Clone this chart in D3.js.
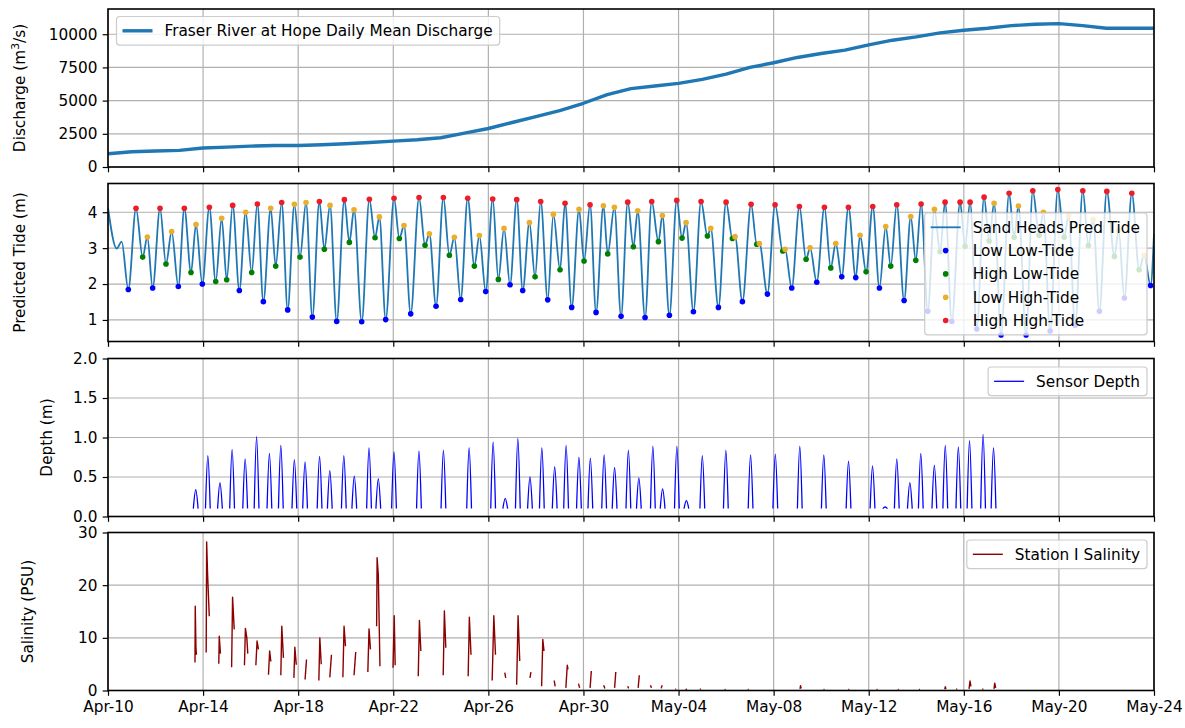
<!DOCTYPE html>
<html>
<head>
<meta charset="utf-8">
<script src="https://cdn.jsdelivr.net/npm/d3@7"></script>
<style>
  body { margin: 0; background: #fff; }
  svg { display: block; font-family: 'DejaVu Sans', sans-serif; }
</style>
</head>
<body>
<svg id="chart" width="1185" height="728"></svg>
<script>
// all times are in days counted from Apr-10 00:00
var xTickLabels = ['Apr-10', 'Apr-14', 'Apr-18', 'Apr-22', 'Apr-26', 'Apr-30',
  'May-04', 'May-08', 'May-12', 'May-16', 'May-20', 'May-24']

var dischargeTicks = [0, 2500, 5000, 7500, 10000]
var tideTicks = [1, 2, 3, 4]
var depthTicks = [0, 0.5, 1.0, 1.5, 2.0]
var salinityTicks = [0, 10, 20, 30]

// Fraser River at Hope, daily mean (m3/s), Apr-10 .. May-24
var discharge = [1000, 1150, 1200, 1250, 1430, 1500, 1570, 1620, 1620, 1680,
  1750, 1850, 1950, 2050, 2200, 2550, 2900, 3350, 3800, 4250,
  4800, 5450, 5900, 6100, 6300, 6600, 7000, 7500, 7850, 8250,
  8550, 8800, 9200, 9550, 9800, 10100, 10300, 10450, 10650, 10750,
  10800, 10650, 10450, 10450, 10450]

// predicted tide turning points [day, m]
var tideUnmarked = [[0, 4.12], [0.365, 2.99], [0.575, 3.18], [44, 3.4]]
var lowLowTide = [[0.855, 1.85], [1.879, 1.89], [2.959, 1.93], [3.968, 2.00], [5.525, 1.82],
  [6.535, 1.51], [7.559, 1.28], [8.596, 1.08], [9.620, 0.96], [10.672, 0.95], [11.681, 1.01],
  [12.733, 1.17], [13.799, 1.38], [14.837, 1.57], [15.889, 1.79], [16.912, 1.98], [17.445, 1.82],
  [18.497, 1.56], [19.506, 1.35], [20.530, 1.21], [21.582, 1.10], [22.592, 1.07], [23.615, 1.13],
  [24.625, 1.23], [25.677, 1.35], [26.686, 1.51], [27.738, 1.72], [28.762, 1.89], [29.814, 2.05],
  [30.865, 2.20], [31.454, 2.18], [32.450, 1.89], [33.488, 1.54], [34.485, 1.24], [35.494, 0.96],
  [36.545, 0.75], [37.568, 0.58], [38.620, 0.58], [39.630, 0.69], [40.682, 0.85], [41.703, 1.24],
  [42.755, 1.61], [43.857, 1.96]]
var highLowTide = [[1.458, 2.75], [2.440, 2.56], [3.492, 2.32], [4.530, 2.07], [4.993, 2.12],
  [6.044, 2.32], [7.054, 2.50], [8.077, 2.75], [9.101, 2.97], [10.153, 3.16], [11.233, 3.29],
  [12.256, 3.27], [13.336, 3.08], [14.360, 2.80], [15.411, 2.50], [16.421, 2.13], [17.964, 2.20],
  [19.015, 2.40], [20.025, 2.64], [21.021, 2.84], [22.101, 3.04], [23.153, 3.18], [24.148, 3.28],
  [25.214, 3.34], [26.265, 3.27], [27.289, 3.11], [28.383, 2.92], [29.365, 2.69], [30.403, 2.45],
  [31.889, 2.34], [32.926, 2.50], [33.979, 2.66], [35.000, 2.90], [36.053, 3.05], [37.064, 3.20],
  [38.115, 3.30], [39.167, 3.36], [40.219, 3.30], [41.241, 3.07], [42.335, 2.77], [43.374, 2.40]]
var lowHighTide = [[1.655, 3.31], [2.678, 3.46], [3.702, 3.66], [4.782, 3.83], [5.792, 4.00],
  [6.843, 4.11], [7.839, 4.22], [8.330, 4.27], [9.339, 4.19], [10.349, 4.07], [11.415, 3.87],
  [12.453, 3.63], [13.518, 3.40], [14.570, 3.30], [15.622, 3.35], [16.659, 3.55], [17.726, 3.71],
  [18.735, 3.94], [19.815, 4.08], [20.839, 4.18], [21.301, 4.14], [22.283, 4.04], [23.321, 3.91],
  [24.316, 3.71], [25.354, 3.55], [26.378, 3.32], [27.401, 3.13], [28.481, 2.97], [29.533, 3.01],
  [30.613, 3.13], [31.636, 3.36], [32.716, 3.60], [33.768, 3.88], [34.763, 4.08], [37.274, 4.25],
  [38.296, 4.17], [39.348, 4.00], [40.408, 3.90], [41.439, 3.80], [42.512, 3.50], [43.584, 2.80]]
var highHighTide = [[1.178, 4.11], [2.188, 4.11], [3.211, 4.11], [4.263, 4.14], [5.245, 4.19],
  [6.282, 4.23], [7.306, 4.27], [8.891, 4.30], [9.943, 4.35], [10.994, 4.36], [12.032, 4.39],
  [13.084, 4.41], [14.107, 4.41], [15.131, 4.39], [16.183, 4.37], [17.193, 4.35], [18.202, 4.30],
  [19.226, 4.25], [20.278, 4.21], [21.862, 4.28], [22.872, 4.30], [23.924, 4.33], [24.947, 4.30],
  [25.999, 4.28], [27.051, 4.22], [28.061, 4.21], [29.084, 4.16], [30.136, 4.14], [31.146, 4.14],
  [32.169, 4.16], [33.179, 4.21], [34.203, 4.23], [35.212, 4.28], [35.843, 4.28], [36.264, 4.28],
  [36.853, 4.42], [37.905, 4.53], [38.902, 4.60], [39.954, 4.63], [41.005, 4.60], [42.015, 4.58],
  [43.067, 4.53]]

// sensor depth: one submerged pulse per entry [day of peak, peak depth m]
var sensorBase = 0.1
var sensorPeaks = [[3.69, 0.34], [4.20, 0.77], [4.71, 0.43], [5.22, 0.85], [5.77, 0.73],
  [6.25, 1.01], [6.79, 0.80], [7.27, 0.90], [7.84, 0.72], [8.29, 0.69], [8.90, 0.76],
  [9.33, 0.58], [9.92, 0.77], [10.36, 0.51], [10.98, 0.87], [11.37, 0.48], [12.03, 0.82],
  [13.08, 0.83], [14.11, 0.84], [15.19, 0.87], [16.20, 0.94], [16.71, 0.23], [17.24, 0.99],
  [17.75, 0.50], [18.25, 0.87], [18.79, 0.63], [19.27, 0.90], [19.81, 0.75], [20.29, 0.74],
  [20.87, 0.78], [21.31, 0.62], [21.89, 0.84], [22.33, 0.49], [22.92, 0.89], [23.33, 0.35],
  [23.93, 0.89], [24.33, 0.20], [25.00, 0.77], [25.99, 0.84], [27.03, 0.78], [28.07, 0.79],
  [29.10, 0.89], [30.11, 0.78], [31.15, 0.70], [32.16, 0.64], [32.69, 0.12], [33.18, 0.73],
  [33.73, 0.43], [34.19, 0.80], [34.76, 0.65], [35.22, 0.90], [35.77, 0.88], [36.24, 0.96],
  [36.81, 1.04], [37.25, 0.87]]

// station I salinity (PSU), recorded pieces [day, PSU]
var salinitySegments = [
  [[3.66, 5.3], [3.67, 16.0], [3.70, 8.1], [3.72, 6.8]],
  [[4.13, 7.2], [4.15, 28.2], [4.19, 22.0], [4.26, 14.1]],
  [[4.66, 5.1], [4.68, 10.3], [4.73, 7.0]],
  [[5.20, 4.4], [5.24, 17.7], [5.31, 11.6]],
  [[5.74, 4.8], [5.78, 11.8], [5.84, 10.0], [5.88, 7.0]],
  [[6.22, 4.8], [6.27, 9.4], [6.33, 7.8]],
  [[6.75, 3.0], [6.80, 7.5], [6.85, 5.5]],
  [[7.27, 2.9], [7.31, 12.2], [7.38, 6.2]],
  [[7.82, 2.4], [7.86, 8.2], [7.92, 4.9]],
  [[8.29, 2.1], [8.35, 5.9]],
  [[8.87, 1.9], [8.91, 10.0], [8.97, 5.0]],
  [[9.33, 2.5], [9.40, 6.8]],
  [[9.88, 2.5], [9.93, 12.2], [9.99, 8.4]],
  [[10.35, 2.9], [10.42, 7.3]],
  [[10.93, 3.5], [10.98, 11.7], [11.04, 7.8]],
  [[11.30, 12.2], [11.32, 25.2], [11.37, 22.0], [11.44, 4.6]],
  [[11.99, 4.3], [12.04, 14.2], [12.08, 4.8]],
  [[13.05, 2.7], [13.10, 13.3], [13.16, 7.5]],
  [[14.10, 2.9], [14.15, 15.1], [14.21, 8.1]],
  [[15.15, 2.7], [15.20, 13.9], [15.27, 6.8]],
  [[16.16, 1.9], [16.23, 14.2], [16.30, 6.8]],
  [[16.69, 3.4], [16.73, 2.4]],
  [[17.19, 1.1], [17.25, 14.2], [17.32, 5.6]],
  [[17.75, 2.4], [17.79, 3.5]],
  [[18.24, 0.8], [18.29, 9.7], [18.34, 7.5]],
  [[18.77, 1.9], [18.81, 0.8]],
  [[19.26, 0.5], [19.32, 4.8], [19.35, 4.0]],
  [[19.79, 1.3], [19.84, 0.5]],
  [[20.28, 0.5], [20.33, 3.7]],
  [[20.85, 1.0], [20.90, 0.4]],
  [[21.31, 0.5], [21.36, 3.5]],
  [[21.86, 0.8], [21.90, 0.4]],
  [[22.30, 0.5], [22.35, 2.9]],
  [[22.82, 1.0], [22.86, 0.5]],
  [[23.27, 0.4], [23.31, 1.0]],
  [[23.87, 0.2], [23.90, 0.3]],
  [[24.30, 0.3], [24.35, 0.15]],
  [[24.90, 0.2], [24.94, 0.3]],
  [[25.94, 0.2], [25.98, 0.2]],
  [[26.91, 0.2], [26.95, 0.2]],
  [[29.11, 0.3], [29.13, 0.9], [29.16, 0.4]],
  [[30.10, 0.2], [30.14, 0.2]],
  [[31.14, 0.2], [31.18, 0.2]],
  [[32.33, 0.2], [32.37, 0.2]],
  [[33.22, 0.2], [33.26, 0.2]],
  [[34.11, 0.2], [34.15, 0.2]],
  [[35.20, 0.2], [35.22, 0.7], [35.25, 0.3]],
  [[35.68, 0.2], [35.72, 0.3]],
  [[36.22, 0.3], [36.26, 1.8], [36.30, 0.8]],
  [[36.78, 0.2], [36.82, 0.3]],
  [[37.27, 0.3], [37.30, 1.4], [37.34, 0.5]]
]

var FONT = 15.3
var left = 108
var right = 1154
var panelTop = [9, 183.5, 358.5, 532.5]
var panelH = 158

var svg = d3.select('#chart')

var parseTick = d3.timeParse('%Y-%b-%d')
var tickDates = xTickLabels.map(function (s) { return parseTick('2019-' + s) })
var t0 = tickDates[0]
var dayToDate = function (d) { return new Date(+t0 + d * 864e5) }

var x = d3.scaleTime()
  .domain([tickDates[0], tickDates[tickDates.length - 1]])
  .range([left, right])

var makePanel = function (i, domain, ticks) {
  var top = panelTop[i]
  var bottom = top + panelH
  var y = d3.scaleLinear().domain(domain).range([bottom, top])
  var g = svg.append('g')

  g.append('g').selectAll('line')
    .data(tickDates)
    .join('line')
    .attr('x1', (d) => x(d)).attr('x2', (d) => x(d))
    .attr('y1', top).attr('y2', bottom)
    .attr('stroke', '#b0b0b0').attr('stroke-width', 1.2)
  g.append('g').selectAll('line')
    .data(ticks)
    .join('line')
    .attr('x1', left).attr('x2', right)
    .attr('y1', (d) => y(d)).attr('y2', (d) => y(d))
    .attr('stroke', '#b0b0b0').attr('stroke-width', 1.2)

  svg.append('clipPath').attr('id', 'clip' + i)
    .append('rect')
    .attr('x', left).attr('y', top)
    .attr('width', right - left).attr('height', panelH)

  var plot = g.append('g').attr('clip-path', 'url(#clip' + i + ')')
  return { i: i, g: g, plot: plot, y: y, top: top, bottom: bottom, ticks: ticks }
}

var finishPanel = function (p, fmt, label, labelX) {
  var styleAxis = function (a) {
    a.attr('font-size', FONT).attr('font-family', 'DejaVu Sans, sans-serif')
    a.select('.domain').remove()
    a.selectAll('line').attr('stroke', '#000').attr('stroke-width', 1.2)
    a.selectAll('text').attr('fill', '#000')
  }
  p.g.append('g')
    .attr('transform', 'translate(' + left + ',0)')
    .call(d3.axisLeft(p.y).tickValues(p.ticks).tickFormat(fmt).tickSize(5.3).tickPadding(5.3))
    .call(styleAxis)

  var last = p.i === 3
  p.g.append('g')
    .attr('transform', 'translate(0,' + p.bottom + ')')
    .call(d3.axisBottom(x).tickValues(tickDates).tickSize(5.3).tickPadding(5.3)
      .tickFormat(function (d, k) { return last ? xTickLabels[k] : '' }))
    .call(styleAxis)

  p.g.append('rect')
    .attr('x', left).attr('y', p.top)
    .attr('width', right - left).attr('height', panelH)
    .attr('fill', 'none').attr('stroke', '#000').attr('stroke-width', 1.6)

  var lab = p.g.append('text')
    .attr('transform', 'translate(' + labelX + ',' + (p.top + panelH / 2) + ') rotate(-90)')
    .attr('text-anchor', 'middle')
    .attr('dy', '0.35em')
    .attr('font-size', FONT)
    .attr('fill', '#000')
  label(lab)
}

var legend = function (anchorX, alignRight, y0, items) {
  var lg = svg.append('g')
  var box = lg.append('rect')
  var rowH = 23.3
  var widest = 0
  items.forEach(function (it, k) {
    var cy = y0 + 14.3 + k * rowH
    var t = lg.append('text')
      .attr('y', cy).attr('dy', '0.35em')
      .attr('font-size', FONT).attr('fill', '#000')
      .text(it.label)
    widest = Math.max(widest, t.node().getComputedTextLength())
    it.text = t
    it.cy = cy
  })
  var w = 6 + 30 + 12 + widest + 7
  var h = 28.6 + (items.length - 1) * rowH
  var x0 = alignRight ? anchorX - w : anchorX
  box.attr('x', x0).attr('y', y0).attr('width', w).attr('height', h).attr('rx', 3)
    .attr('fill', '#fff').attr('fill-opacity', 0.8)
    .attr('stroke', '#cccccc').attr('stroke-width', 1.2)
  items.forEach(function (it) {
    it.text.attr('x', x0 + 48)
    if (it.type === 'line') {
      lg.append('line')
        .attr('x1', x0 + 6).attr('x2', x0 + 36)
        .attr('y1', it.cy).attr('y2', it.cy)
        .attr('stroke', it.color).attr('stroke-width', it.width)
    } else {
      lg.append('circle')
        .attr('cx', x0 + 21).attr('cy', it.cy).attr('r', 2.8)
        .attr('fill', it.color)
    }
  })
}

// ---- panel 1: discharge
var p1 = makePanel(0, [0, 11900], dischargeTicks)
p1.plot.append('path')
  .datum(discharge)
  .attr('fill', 'none')
  .attr('stroke', '#1f77b4')
  .attr('stroke-width', 3.4)
  .attr('stroke-linejoin', 'round')
  .attr('d', d3.line()
    .x((d, k) => x(dayToDate(k)))
    .y((d) => p1.y(d)))
legend(left + 8.5, false, p1.top + 7.5, [
  { type: 'line', color: '#1f77b4', width: 3.4, label: 'Fraser River at Hope Daily Mean Discharge' }
])
finishPanel(p1, d3.format('d'), function (t) {
  t.append('tspan').text('Discharge (m')
  t.append('tspan').attr('baseline-shift', 'super').attr('font-size', FONT * 0.7).text('3')
  t.append('tspan').text('/s)')
}, 20)

// ---- panel 2: predicted tide
var p2 = makePanel(1, [0.4, 4.8], tideTicks)
var tideAll = tideUnmarked.concat(lowLowTide, highLowTide, lowHighTide, highHighTide)
  .sort(function (a, b) { return a[0] - b[0] })
p2.plot.append('path')
  .datum(tideAll)
  .attr('fill', 'none')
  .attr('stroke', '#1f77b4')
  .attr('stroke-width', 1.8)
  .attr('d', d3.line()
    .x((d) => x(dayToDate(d[0])))
    .y((d) => p2.y(d[1]))
    .curve(d3.curveMonotoneX))

var tideColors = ['#0000ff', '#008000', '#e8ae2c', '#ee1c28']
var tideSets = [lowLowTide, highLowTide, lowHighTide, highHighTide]
tideSets.forEach(function (set, k) {
  p2.plot.append('g').selectAll('circle')
    .data(set)
    .join('circle')
    .attr('cx', (d) => x(dayToDate(d[0])))
    .attr('cy', (d) => p2.y(d[1]))
    .attr('r', 2.8)
    .attr('fill', tideColors[k])
})
legend(right - 7, true, p2.top + 29.5, [
  { type: 'line', color: '#1f77b4', width: 1.8, label: 'Sand Heads Pred Tide' },
  { type: 'dot', color: tideColors[0], label: 'Low Low-Tide' },
  { type: 'dot', color: tideColors[1], label: 'High Low-Tide' },
  { type: 'dot', color: tideColors[2], label: 'Low High-Tide' },
  { type: 'dot', color: tideColors[3], label: 'High High-Tide' }
])
finishPanel(p2, d3.format('d'), function (t) { t.text('Predicted Tide (m)') }, 20)

// ---- panel 3: sensor depth
var p3 = makePanel(2, [0, 2], depthTicks)
var pulseHalf = 0.1
var pulseLine = d3.line()
  .x((d) => x(dayToDate(d[0])))
  .y((d) => p3.y(d[1]))
  .curve(d3.curveMonotoneX)
p3.plot.append('g').selectAll('path')
  .data(sensorPeaks)
  .join('path')
  .attr('fill', 'none')
  .attr('stroke', '#0000ff')
  .attr('stroke-width', 1.3)
  .attr('d', function (d) {
    return pulseLine([[d[0] - pulseHalf, sensorBase], [d[0], d[1]], [d[0] + pulseHalf, sensorBase]])
  })
legend(right - 7, true, p3.top + 8.5, [
  { type: 'line', color: '#0000ff', width: 1.3, label: 'Sensor Depth' }
])
finishPanel(p3, d3.format('.1f'), function (t) { t.text('Depth (m)') }, 47)

// ---- panel 4: salinity
var p4 = makePanel(3, [0, 30], salinityTicks)
p4.plot.append('g').selectAll('path')
  .data(salinitySegments)
  .join('path')
  .attr('fill', 'none')
  .attr('stroke', '#8b0000')
  .attr('stroke-width', 1.4)
  .attr('stroke-linejoin', 'round')
  .attr('d', d3.line()
    .x((d) => x(dayToDate(d[0])))
    .y((d) => p4.y(d[1])))
legend(right - 7, true, p4.top + 7.5, [
  { type: 'line', color: '#8b0000', width: 1.4, label: 'Station I Salinity' }
])
finishPanel(p4, d3.format('d'), function (t) { t.text('Salinity (PSU)') }, 28)
</script>
</body>
</html>
